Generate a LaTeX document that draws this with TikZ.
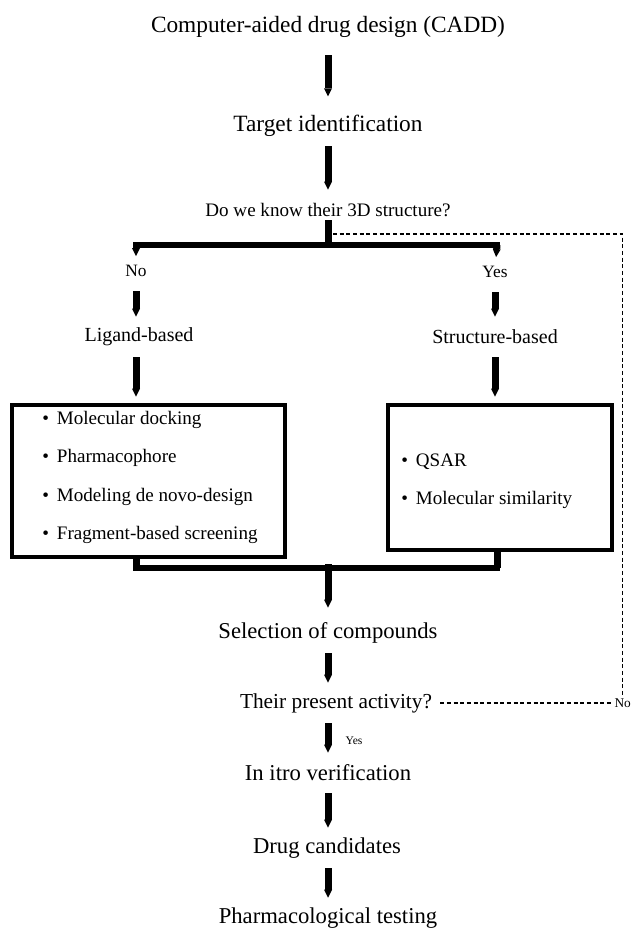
\documentclass[tikz,border=0pt]{standalone}
\usepackage{fontspec}
\setmainfont{Liberation Serif}
\usetikzlibrary{arrows.meta,positioning}

\begin{document}
\begin{tikzpicture}[
    x=0.75pt, y=-0.75pt,
    stage/.style={font=\fontsize{17.5}{20}\selectfont, inner sep=0pt, minimum height=30pt},
    lower/.style={stage, font=\fontsize{17}{20}\selectfont},
    quest/.style={stage, font=\fontsize{14.3}{17}\selectfont},
    answer/.style={stage, font=\fontsize{13}{16}\selectfont},
    approach/.style={stage, font=\fontsize{15}{18}\selectfont},
    listbox/.style={draw, line width=2.6pt, inner sep=0pt},
    item/.style={anchor=west, inner sep=0pt, font=\fontsize{14.3}{17}\selectfont},
    flow/.style={line width=5.25pt, -{Triangle[length=6pt, width=6pt, line width=0pt]}},
    bar/.style={line width=3.8pt, line cap=rect},
    stub/.style={line width=5.25pt},
    back/.style={densely dashed, line width=1.1pt}
]
    \useasboundingbox (0,0) rectangle (631,929);

    % Main chain
    \node[stage] (cadd) at (328,27) {Computer-aided drug design (CADD)};
    \node[stage] (target) at (328,126) {Target identification};
    \node[quest] (question) at (328,210) {Do we know their 3D structure?};

    \draw[flow, shorten <=6pt, shorten >=7pt] (cadd) -- (target);
    \draw[flow] (target) -- (question);

    % Split into the two approaches
    \coordinate (split) at (328,245);
    \coordinate (lsplit) at (136,245);
    \coordinate (rsplit) at (497,245);
    \draw[stub, shorten <=-7.5pt] (question) -- (split);
    \draw[bar] (lsplit) -- (rsplit);

    \node[answer] (no) at (136,271) {No};
    \node[answer] (yes) at (495,272) {Yes};
    \draw[flow, shorten >=-4pt] (lsplit) -- (no);
    \draw[flow, shorten >=-4pt] (rsplit) -- (yes);

    \node[approach] (ligand) at (139,337) {Ligand-based};
    \node[approach] (structure) at (495,337) {Structure-based};
    \draw[flow] (no) -- (ligand.north -| no);
    \draw[flow] (yes) -- (structure);

    % Method boxes
    \node[listbox, minimum width=273pt*0.75, minimum height=152pt*0.75] (ligbox) at (148.5,481) {};
    \node[listbox, minimum width=224pt*0.75, minimum height=145pt*0.75] (strbox) at (500,477.5) {};

    \draw[flow, shorten >=5pt] (ligand.south -| no) -- (ligbox.north -| no);
    \draw[flow, shorten >=5pt] (structure) -- (strbox.north -| structure);

    \node[item] (dock) at (42,420) {\textbullet\hspace{6pt}Molecular docking};
    \node[item] (pharm) at (42,458) {\textbullet\hspace{6pt}Pharmacophore};
    \node[item] (novo) at (42,497) {\textbullet\hspace{6pt}Modeling de novo-design};
    \node[item] (frag) at (42,535) {\textbullet\hspace{6pt}Fragment-based screening};

    \node[item] (qsar) at (401,462) {\textbullet\hspace{6pt}QSAR};
    \node[item] (simil) at (401,500) {\textbullet\hspace{6pt}Molecular similarity};

    % Merge back
    \coordinate (lmerge) at (136,568);
    \coordinate (rmerge) at (497,568);
    \coordinate (merge) at (328,568);
    \draw[stub] (ligbox.south -| lmerge) -- (lmerge);
    \draw[stub] (strbox.south -| rmerge) -- (rmerge);
    \draw[bar] (lmerge) -- (rmerge);

    \node[lower] (selection) at (328,633) {Selection of compounds};
    \node[lower, font=\fontsize{16}{19}\selectfont] (activity) at (336,703) {Their present activity?};
    \node[lower] (vitro) at (328,773) {In itro verification};
    \node[lower] (candidates) at (327,848) {Drug candidates};
    \node[lower] (testing) at (328,918) {Pharmacological testing};

    \draw[flow, shorten <=-3pt, shorten >=3.75pt] (merge) -- (selection);
    \draw[flow] (selection.south -| merge) -- (activity.north -| merge);
    \draw[flow] (activity.south -| merge) -- (vitro.north -| merge);
    \draw[flow] (vitro) -- (candidates.north -| vitro);
    \draw[flow] (candidates.south -| vitro) -- (testing);

    \node[font=\fontsize{8.7}{10}\selectfont] (yesact) at (354,741) {Yes};

    % Feedback when no activity
    \node[anchor=west, inner sep=1pt, font=\fontsize{10}{12}\selectfont] (noact) at (613,703) {No};
    \coordinate (qstem) at (333,234);
    \draw[back] (qstem) -| (noact.north);
    \draw[back] (activity.east) ++(6pt,0) -- (noact.west);
\end{tikzpicture}
\end{document}
